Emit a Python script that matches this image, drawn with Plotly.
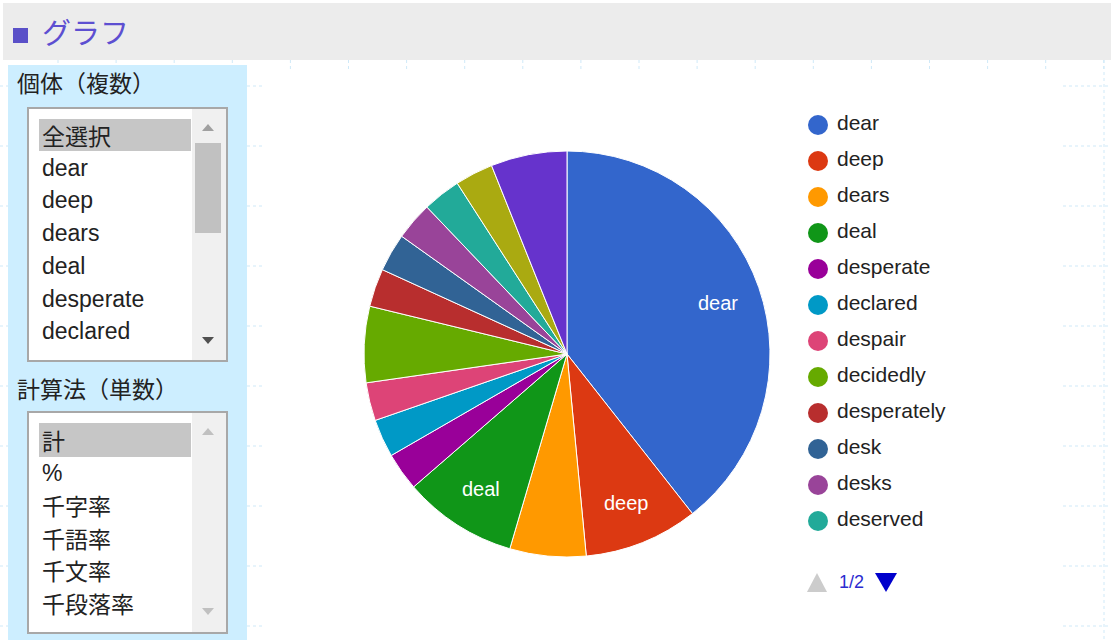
import math
import plotly.graph_objects as go

# ---- data -------------------------------------------------------------
words = ["dear", "deep", "dears", "deal", "desperate", "declared", "despair",
         "decidedly", "desperately", "desk", "desks", "deserved", "desire", "design"]
counts = [13, 3, 2, 3, 1, 1, 1, 2, 1, 1, 1, 1, 1, 2]
colors = ["#3366cc", "#dc3912", "#ff9900", "#109618", "#990099", "#0099c6",
          "#dd4477", "#66aa00", "#b82e2e", "#316395", "#994499", "#22aa99",
          "#aaaa11", "#6633cc"]
labelled = ["dear", "deep", "deal"]

legend_page_size = 12
legend_page = "1/2"

subject_list = ["全選択", "dear", "deep", "dears", "deal", "desperate", "declared"]
method_list = ["計", "%", "千字率", "千語率", "千文率", "千段落率"]

header_title = "グラフ"
subject_title = "個体（複数）"
method_title = "計算法（単数）"

# ---- page geometry helpers (pixels -> paper) ---------------------------
W, H = 1111, 640


def px(x):
    return x / W


def py(y):
    return 1 - y / H


LATIN = "Arial, 'Liberation Sans', sans-serif"
CJK = "'Noto Sans CJK JP', sans-serif"

shapes = []
annotations = []


def rect(x0, y0, x1, y1, fill, line=None, lw=0):
    shapes.append(dict(type="rect", xref="paper", yref="paper",
                       x0=px(x0), x1=px(x1), y0=py(y1), y1=py(y0),
                       fillcolor=fill, layer="below",
                       line=dict(color=line or fill, width=lw)))


def seg(x0, y0, x1, y1, color="#cfe9f8", dash="dot"):
    shapes.append(dict(type="line", xref="paper", yref="paper",
                       x0=px(x0), x1=px(x1), y0=py(y0), y1=py(y1),
                       layer="below", line=dict(color=color, width=1, dash=dash)))


def tri(pts, fill):
    path = "M " + " L ".join(f"{px(a)},{py(b)}" for a, b in pts) + " Z"
    shapes.append(dict(type="path", xref="paper", yref="paper", path=path,
                       fillcolor=fill, line=dict(width=0), layer="above"))


def text(x, y, s, size, color="#222222", family=LATIN, anchor="left"):
    annotations.append(dict(x=px(x), y=py(y), xref="paper", yref="paper",
                            text=s, showarrow=False, xanchor=anchor,
                            yanchor="middle",
                            font=dict(size=size, color=color, family=family)))


# faint background grid marks
for k in range(19):
    gx = 58 + k * 58.1
    seg(gx, 60, gx, 72)
for k in range(10):
    gy = 86 + k * 60
    seg(0, gy, 8, gy)
    seg(247, gy, 262, gy)
    seg(1063, gy, 1111, gy)
seg(1104, 60, 1104, 640)

# header bar
rect(3, 3, 1111, 60, "#ececec")
rect(13, 28, 28, 43, "#5a50c8")
text(40, 31, header_title, 29, color="#5d4fd1", family=CJK)

# control panel
rect(8, 65, 247, 640, "#cdeeff")
text(15, 82, subject_title, 23, family=CJK)
text(15, 388, method_title, 23, family=CJK)

# list box 1
rect(28, 108, 227, 361, "#ffffff", "#a8a8a8", 2)
rect(192, 109, 226, 360, "#f0f0f0")
rect(195, 143, 221, 233, "#c1c1c1")
rect(39, 119, 191, 151, "#c6c6c6")
tri([(202, 131), (214, 131), (208, 124)], "#a0a0a0")
tri([(202, 337), (214, 337), (208, 344)], "#505050")
for i, s in enumerate(subject_list):
    if i == 0:
        text(40, 135, s, 23, family=CJK)
    else:
        text(40, 135 + i * 32.7, s, 23, family=LATIN)

# list box 2
rect(28, 412, 227, 633, "#ffffff", "#a8a8a8", 2)
rect(192, 413, 226, 632, "#f0f0f0")
rect(39, 423, 191, 457, "#c6c6c6")
tri([(202, 435), (214, 435), (208, 428)], "#c0c0c0")
tri([(202, 608), (214, 608), (208, 615)], "#c0c0c0")
for i, s in enumerate(method_list):
    fam = LATIN if s == "%" else CJK
    text(40, 440 + i * 32.6, s, 23, family=fam)

# legend pager
tri([(807, 592), (827, 592), (817, 573)], "#cccccc")
text(837, 582, legend_page, 18, color="#2b2bd0")
tri([(875, 573), (897, 573), (886, 592)], "#0000cc")

# pie geometry
PIE_X0, PIE_X1, PIE_Y0, PIE_Y1 = 364, 770, 151, 557
cx, cy = (PIE_X0 + PIE_X1) / 2, (PIE_Y0 + PIE_Y1) / 2
radius = (PIE_X1 - PIE_X0) / 2

# slice name labels, placed along each slice's mid-angle
total = sum(counts)
cum = 0
for w, c in zip(words, counts):
    mid = (cum + c / 2) / total * 2 * math.pi
    cum += c
    if w in labelled:
        r = 0.785 * radius
        text(cx + r * math.sin(mid), cy + 1 - r * math.cos(mid), w, 20,
             color="#ffffff", anchor="center")

fig = go.Figure()

fig.add_trace(go.Pie(
    labels=words, values=counts,
    marker=dict(colors=colors, line=dict(color="#ffffff", width=1)),
    sort=False, direction="clockwise", rotation=0,
    textinfo="none",
    domain=dict(x=[px(PIE_X0), px(PIE_X1)], y=[py(PIE_Y1), py(PIE_Y0)]),
    showlegend=False, hoverinfo="label+value+percent",
))

# legend drawn as a marker column on a category axis
lw = words[:legend_page_size]
fig.add_trace(go.Scatter(
    x=[0.6] * len(lw), y=lw, mode="markers",
    marker=dict(size=20, color=colors[:legend_page_size], line=dict(width=0)),
    showlegend=False, hoverinfo="skip", cliponaxis=False,
))
fig.add_trace(go.Scatter(
    x=[1.55] * len(lw), y=lw, mode="text",
    text=lw, textposition="middle right",
    textfont=dict(size=21, color="#222222", family=LATIN),
    showlegend=False, hoverinfo="skip", cliponaxis=False,
))

fig.update_layout(
    width=W, height=H, margin=dict(l=0, r=0, t=0, b=0),
    paper_bgcolor="#ffffff", plot_bgcolor="rgba(0,0,0,0)",
    shapes=shapes, annotations=annotations,
    xaxis=dict(domain=[px(806), px(1006)], range=[0, 10], visible=False,
               fixedrange=True),
    yaxis=dict(domain=[py(539), py(107)], type="category",
               categoryorder="array", categoryarray=lw,
               range=[len(lw) - 0.5, -0.5], visible=False, fixedrange=True),
)

fig.write_html("out.html")
